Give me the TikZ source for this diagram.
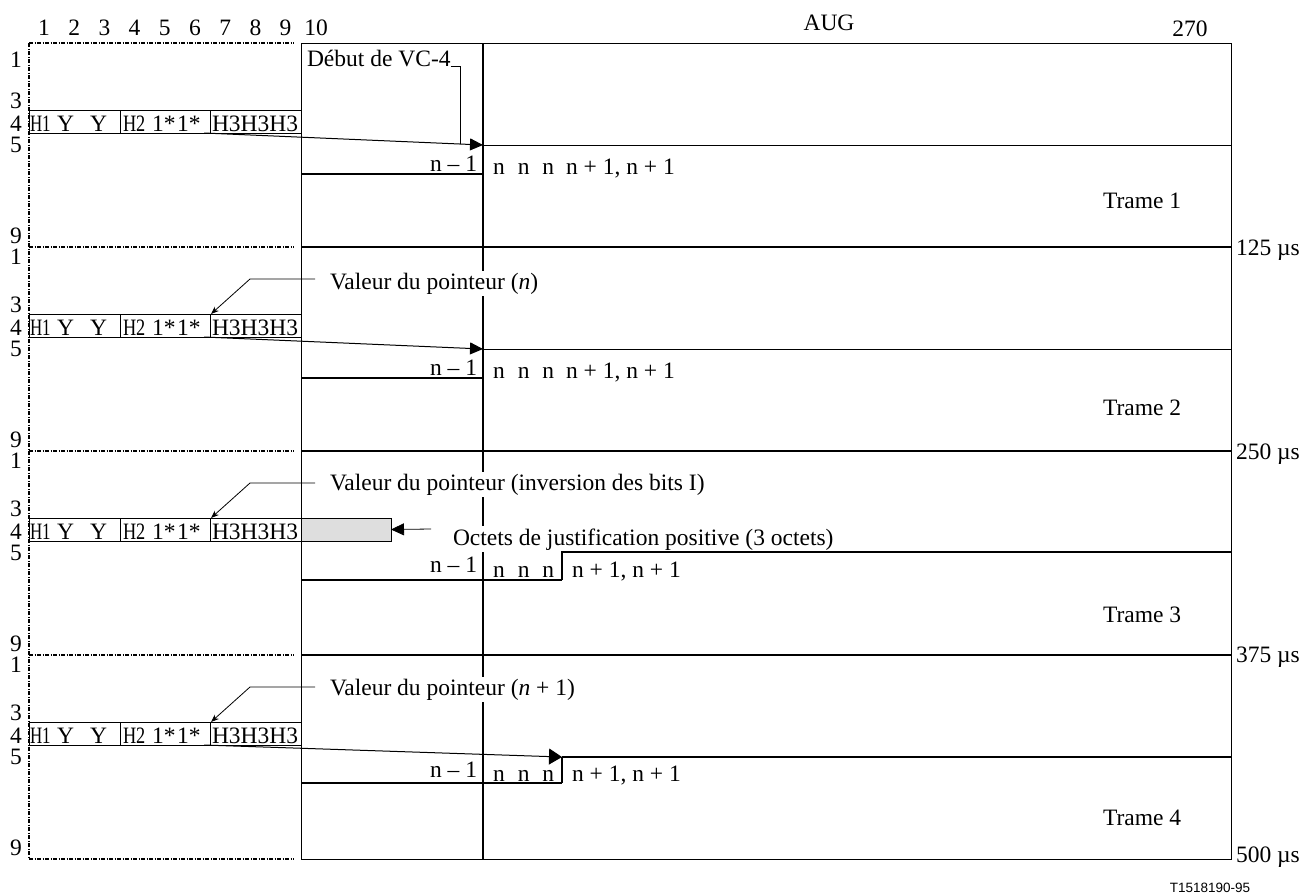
\documentclass[tikz,border=0pt]{standalone}
\usepackage{fontspec}
\setmainfont{Liberation Serif}
\newfontfamily\sansf{Liberation Sans}
\usetikzlibrary{arrows.meta}
\begin{document}
\begin{tikzpicture}[x=1pt,y=-1pt,
  every node/.style={font=\fontsize{23.5}{26}\selectfont, inner sep=0pt, outer sep=0pt},
  thinl/.style={line width=1pt},
  medl/.style={line width=1.4pt},
  thickl/.style={line width=1.9pt},
  leadl/.style={line width=0.8pt},
  dotl/.style={line width=1.2pt, dash pattern=on 4pt off 1.5pt on 1pt off 1.5pt},
  bigtip/.style={-{Triangle[length=13pt,width=12pt]}},
  bigtipb/.style={-{Triangle[length=13pt,width=16pt]}},
  smalltip/.style={-{Stealth[length=8pt,width=6pt]}},
  lbl/.style={anchor=base west},
  rlbl/.style={anchor=base east},
  clbl/.style={anchor=base},
  whitebg/.style={fill=white, inner ysep=2pt, inner xsep=1pt}
]
\useasboundingbox (0,0) rectangle (1308,895);

% ---- main frame and grid ----
\draw[thinl] (301,43) rectangle (1231,859);
\foreach \yy in {247,451,655}{
  \draw[thickl] (301,\yy) -- (1231,\yy);
}
\draw[thickl] (483,43) -- (483,859);

% left dotted area
\draw[dotl] (29,43) -- (29,859);
\foreach \yy in {43,247,451,655,859}{
  \draw[dotl] (29,\yy) -- (294,\yy);
}

% column numbers
\foreach \i in {1,...,9}{
  \node[clbl] (col\i) at ({44+30.2*(\i-1)},35) {\i};
}
\node[clbl] (col10) at (316,35) {10};
\node[clbl] (aug) at (829,30) {AUG};
\node[clbl] (c270) at (1190,36) {270};

% per-frame common parts
\foreach \k/\o/\r in {1/0/67,2/204/264,3/408/468,4/612/672}{
  \node[clbl] (r1f\k) at (16,\r) {1};
  \node[clbl] (r3f\k) at (16,\o+108) {3};
  \node[clbl] (r4f\k) at (16,\o+131) {4};
  \node[clbl] (r5f\k) at (16,\o+152) {5};
  \node[clbl] (r9f\k) at (16,\o+243) {9};
  \draw[thinl] (29,\o+110) rectangle (120,\o+133);
  \draw[thinl] (120,\o+110) rectangle (210,\o+133);
  \draw[thinl] (210,\o+110) rectangle (301,\o+133);
  \node[lbl] (hA\k) at (30,\o+131) {\scalebox{0.72}[1]{H1}};
  \node[lbl] (hB\k) at (57,\o+131) {Y};
  \node[lbl] (hC\k) at (90,\o+131) {Y};
  \node[lbl] (hD\k) at (123,\o+131) {\scalebox{0.78}[1]{H2}};
  \node[lbl] (hE\k) at (152,\o+131) {1*};
  \node[lbl] (hF\k) at (177,\o+131) {1*};
  \node[lbl] (hG\k) at (212,\o+131) {H3H3H3};
}

% ---- Frame 1 ----
\node[lbl] (debut) at (307,66) {Début de VC-4};
\coordinate (s1) at (204,133);
\coordinate (t1) at (483,145);
\coordinate (e1) at (1231,145);
\coordinate (lead1) at (460,144);
\draw[leadl] (debut.base east) -| (lead1);
\draw[thinl,bigtip] (s1) -- (t1);
\draw[thinl] (t1) -- (e1);
\coordinate (b1a) at (301,174);
\coordinate (b1b) at (483,174);
\draw[thickl] (b1a) -- (b1b);
\node[rlbl] (nm1) at (477,171) {n – 1};
\node[lbl] (nn1) at (493,174) {n\hspace{13pt}n\hspace{13pt}n};
\node[lbl] (np1) at (566,174) {n + 1, n + 1};
\node[lbl] (tr1) at (1103,208) {Trame 1};

% ---- Frame 2 ----
\node[lbl,whitebg] (val2) at (329,289) {Valeur du pointeur (\textit{n})};
\coordinate (lA2) at (315,279);
\coordinate (lB2) at (250,279);
\coordinate (lC2) at (211,314);
\draw[leadl,smalltip] (lA2) -- (lB2) -- (lC2);
\coordinate (s2) at (204,337);
\coordinate (t2) at (483,349);
\coordinate (e2) at (1231,349);
\draw[thinl,bigtip] (s2) -- (t2);
\draw[thinl] (t2) -- (e2);
\coordinate (b2a) at (301,378);
\coordinate (b2b) at (483,378);
\draw[thickl] (b2a) -- (b2b);
\node[rlbl] (nm2) at (477,375) {n – 1};
\node[lbl] (nn2) at (493,378) {n\hspace{13pt}n\hspace{13pt}n};
\node[lbl] (np2) at (566,378) {n + 1, n + 1};
\node[lbl] (tr2) at (1103,415) {Trame 2};

% ---- Frame 3 ----
\node[lbl,whitebg] (val3) at (329,490) {Valeur du pointeur (inversion des bits I)};
\coordinate (lA3) at (315,483);
\coordinate (lB3) at (250,483);
\coordinate (lC3) at (211,518);
\draw[leadl,smalltip] (lA3) -- (lB3) -- (lC3);
\node[draw, thinl, fill=black!13, minimum width=90pt, minimum height=23pt, anchor=north west] (gray3) at (301,518) {};
\node[lbl,whitebg] (oct3) at (452,545) {Octets de justification positive (3 octets)};
\coordinate (oa3) at (431,529);
\draw[leadl,bigtip] (oa3) -- (gray3.east);
\coordinate (b3a) at (301,580);
\coordinate (b3b) at (562,580);
\coordinate (b3c) at (562,552);
\coordinate (e3) at (1231,552);
\draw[thickl] (b3a) -- (b3b);
\draw[medl] (b3b) -- (b3c) -- (e3);
\node[rlbl] (nm3) at (477,572) {n – 1};
\node[lbl] (nn3) at (493,577) {n\hspace{13pt}n\hspace{13pt}n};
\node[lbl] (np3) at (572,577) {n + 1, n + 1};
\node[lbl] (tr3) at (1103,622) {Trame 3};

% ---- Frame 4 ----
\node[lbl,whitebg] (val4) at (329,695) {Valeur du pointeur (\textit{n} + 1)};
\coordinate (lA4) at (315,687);
\coordinate (lB4) at (250,687);
\coordinate (lC4) at (211,722);
\draw[leadl,smalltip] (lA4) -- (lB4) -- (lC4);
\coordinate (s4) at (204,745);
\coordinate (t4) at (562,757);
\coordinate (e4) at (1231,757);
\draw[thinl,bigtipb] (s4) -- (t4);
\draw[medl] (t4) -- (e4);
\coordinate (b4a) at (301,783);
\coordinate (b4b) at (562,783);
\draw[thickl] (b4a) -- (b4b);
\draw[medl] (b4b) -- (t4);
\node[rlbl] (nm4) at (477,777) {n – 1};
\node[lbl] (nn4) at (493,781) {n\hspace{13pt}n\hspace{13pt}n};
\node[lbl] (np4) at (572,781) {n + 1, n + 1};
\node[lbl] (tr4) at (1103,825) {Trame 4};

% ---- time labels ----
\node[lbl] (t125) at (1236,255) {125 µs};
\node[lbl] (t250) at (1236,459) {250 µs};
\node[lbl] (t375) at (1236,662) {375 µs};
\node[lbl] (t500) at (1236,862) {500 µs};

\node[clbl, font=\sansf\fontsize{13.5}{15}\selectfont] (ref) at (1210,892) {T1518190-95};
\end{tikzpicture}
\end{document}
